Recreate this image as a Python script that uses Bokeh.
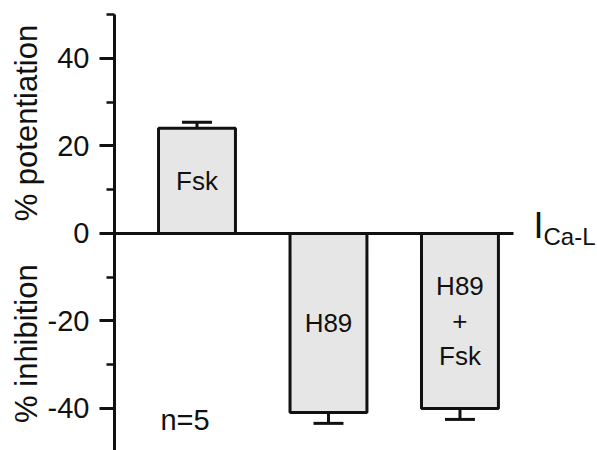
import math
from bokeh.plotting import figure
from bokeh.models import ColumnDataSource, Range1d, SingleIntervalTicker, Label
from bokeh.core.properties import value
from bokeh.embed import file_html
from bokeh.resources import INLINE

# ---- data ----
labels = ["Fsk", "H89", "H89\n+\nFsk"]
positions = [1, 2, 3]
means = [24.0, -40.9, -40.0]
errors = [1.4, 2.5, 2.5]
y_ticks_interval = 20
tick_overrides = {-40: "-40", -20: "-20", 0: "0", 20: "20", 40: "40"}
n_text = "n=5"
label_up = "% potentiation"
label_down = "% inhibition"

FONT = "Liberation Sans"
INK = "#111111"
NB = "\u00a0"

p = figure(width=597, height=450, output_backend="svg", toolbar_location=None,
           x_range=Range1d(0.3726, 4.046), y_range=Range1d(-49.6, 50.0),
           x_axis_location=None, min_border_left=114, min_border_top=14,
           min_border_bottom=0, min_border_right=0)
p.xgrid.visible = False
p.ygrid.visible = False
p.outline_line_color = None
p.background_fill_color = "white"
p.border_fill_color = "white"

ax = p.yaxis[0]
ax.ticker = SingleIntervalTicker(interval=y_ticks_interval, num_minor_ticks=2)
ax.major_label_overrides = tick_overrides
ax.axis_line_width = 3
ax.axis_line_color = INK
ax.major_tick_out = 15
ax.major_tick_in = 0
ax.minor_tick_out = 8
ax.minor_tick_in = 0
ax.major_tick_line_width = 3
ax.minor_tick_line_width = 2.5
ax.major_tick_line_color = INK
ax.minor_tick_line_color = INK
ax.major_label_text_font = FONT
ax.major_label_text_font_size = "29px"
ax.major_label_text_color = INK
ax.major_label_standoff = 10
ax.axis_label = NB * 2 + label_down + NB * 5 + label_up
ax.axis_label_text_font = FONT
ax.axis_label_text_font_size = "31px"
ax.axis_label_text_font_style = "normal"
ax.axis_label_text_color = INK
ax.axis_label_standoff = 1

# zero line
p.segment(x0=[0.3726], y0=[0], x1=[3.407], y1=[0], line_color=INK, line_width=3)

bar_w = 0.585
src = ColumnDataSource(dict(
    x=positions, top=means, lab=labels,
    lab_y=[m / 2 for m in means],
    stem_end=[m + math.copysign(e, m) for m, e in zip(means, errors)],
    cap_l=[x - 0.114 for x in positions],
    cap_r=[x + 0.114 for x in positions],
))

# error stems and caps
p.segment(x0="x", y0="top", x1="x", y1="stem_end", source=src, line_color=INK, line_width=3)
p.segment(x0="cap_l", y0="stem_end", x1="cap_r", y1="stem_end", source=src, line_color=INK, line_width=3)

p.vbar(x="x", top="top", bottom=0, width=bar_w, source=src,
       fill_color="#e6e6e6", line_color=INK, line_width=3)

p.text(x="x", y="lab_y", text="lab", source=src, text_font=value(FONT),
       text_font_size="26px", text_align="center", text_baseline="middle",
       text_color=INK, text_line_height=1.17)

p.add_layout(Label(x=0.722, y=-42.7, text=n_text, text_font=FONT, text_font_size="29px",
                   text_align="left", text_baseline="middle", text_color=INK))

# I Ca-L label
p.add_layout(Label(x=3.559, y=1.85, text="I", text_font=FONT, text_font_size="36px",
                   text_align="left", text_baseline="alphabetic", text_color=INK))
p.add_layout(Label(x=3.635, y=-0.6, text="Ca-L", text_font=FONT, text_font_size="24px",
                   text_align="left", text_baseline="alphabetic", text_color=INK))

open("out.html", "w").write(file_html(p, INLINE))
